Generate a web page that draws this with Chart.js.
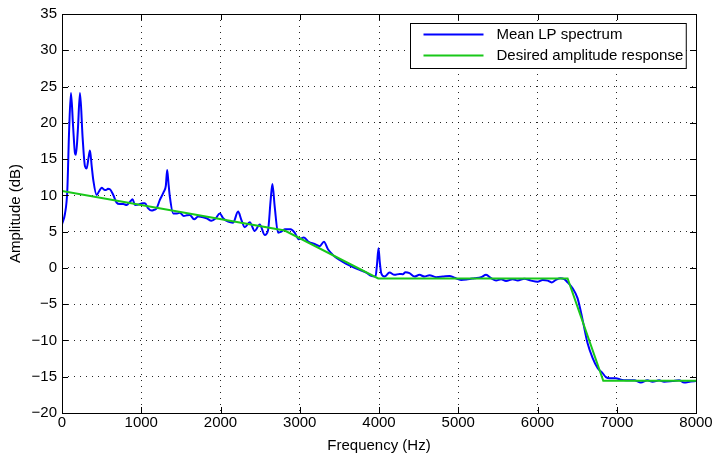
<!DOCTYPE html>
<html>
<head>
<meta charset="utf-8">
<script src="https://cdn.jsdelivr.net/npm/chart.js@4.4.1/dist/chart.umd.min.js"></script>
<style>
  html, body { margin: 0; padding: 0; background: #ffffff; }
  #wrap { width: 716px; height: 458px; }
</style>
</head>
<body>
<div id="wrap"><canvas id="c" width="716" height="458"></canvas></div>
<script>
// ---- data ----
const seriesLabels = ['Mean LP spectrum', 'Desired amplitude response'];

const freqBlue = [0, 38, 67, 90, 113, 140, 164, 176, 200, 227, 260, 290, 311, 335, 353, 375, 395, 437, 470, 500,
  530, 554, 580, 605, 647, 689, 730, 773, 815, 857, 891, 920, 950, 983, 1020, 1046, 1088, 1130, 1160, 1193,
  1235, 1285, 1310, 1327, 1345, 1361, 1403, 1453, 1487, 1537, 1575, 1613, 1667, 1718, 1781, 1823, 1886, 1937, 1991, 2033,
  2096, 2159, 2222, 2264, 2306, 2369, 2432, 2495, 2558, 2600, 2633, 2655, 2684, 2726, 2768, 2810, 2885, 2936, 2986, 3053,
  3112, 3188, 3251, 3305, 3356, 3400, 3440, 3503, 3587, 3671, 3755, 3839, 3902, 3956, 3975, 3994, 4010, 4028, 4070, 4133,
  4196, 4259, 4300, 4334, 4385, 4448, 4511, 4574, 4637, 4721, 4805, 4889, 4952, 5036, 5120, 5204, 5288, 5351, 5414, 5477,
  5540, 5603, 5687, 5750, 5834, 5918, 6002, 6065, 6128, 6178, 6233, 6287, 6338, 6372, 6443, 6506, 6569, 6632, 6695, 6758,
  6821, 6863, 6913, 6989, 7052, 7115, 7220, 7304, 7388, 7451, 7535, 7598, 7703, 7787, 7850, 7934, 8000];
const ampBlue = [6.0, 7.5, 10.7, 19.0, 24.1, 19.5, 15.8, 15.6, 19.0, 24.1, 18.0, 14.0, 13.7, 15.2, 16.2, 14.0, 12.1, 10.05, 10.6, 11.06,
  10.8, 10.74, 10.9, 10.84, 10.05, 9.0, 8.8, 8.8, 8.68, 9.1, 9.46, 8.68, 8.7, 8.8, 8.9, 8.9, 8.2, 7.9, 8.0, 8.2,
  9.37, 10.5, 11.3, 13.5, 11.5, 9.8, 7.5, 7.5, 7.6, 7.16, 7.25, 7.3, 6.7, 7.07, 6.98, 6.84, 6.5, 6.8, 7.5, 6.84,
  6.38, 6.24, 7.76, 6.6, 5.6, 6.3, 5.1, 6.0, 4.55, 5.2, 9.37, 11.57, 8.45, 4.86, 5.0, 5.33, 5.33, 4.86, 3.95, 4.2,
  3.6, 3.3, 3.0, 3.6, 2.57, 2.0, 1.56, 1.1, 0.55, 0.1, -0.28, -0.64, -1.1, -1.2, 0.5, 2.7, 0.8, -0.73, -1.2, -0.64,
  -0.96, -0.83, -0.87, -0.6, -0.73, -1.2, -0.96, -1.2, -1.0, -1.28, -1.2, -1.1, -1.35, -1.65, -1.56, -1.42, -1.28, -0.96, -1.42, -1.75,
  -1.56, -1.8, -1.56, -1.75, -1.5, -1.75, -1.9, -1.65, -1.75, -2.0, -1.65, -1.42, -1.56, -1.9, -2.8, -4.2, -7.16, -10.4, -12.4, -13.8,
  -14.5, -15.05, -15.2, -15.2, -15.4, -15.5, -15.5, -15.8, -15.5, -15.7, -15.5, -15.7, -15.6, -15.5, -15.8, -15.65, -15.6];

const freqGreen = [0, 2810, 3990, 6380, 6830, 8000];
const ampGreen = [10.6, 5.15, -1.45, -1.45, -15.55, -15.55];

const xTickValues = [0, 1000, 2000, 3000, 4000, 5000, 6000, 7000, 8000];
const yTickValues = [-20, -15, -10, -5, 0, 5, 10, 15, 20, 25, 30, 35];

const xTitle = 'Frequency (Hz)';
const yTitle = 'Amplitude (dB)';

// ---- styles ----
const FONT = '"Liberation Sans", Arial, Helvetica, sans-serif';
const BLUE = '#0000ff';
const GREEN = '#19c819';

Chart.defaults.font.family = FONT;
Chart.defaults.font.size = 15;
Chart.defaults.color = '#000000';

const toPts = (xs, ys) => xs.map((x, i) => ({ x: x, y: ys[i] }));
const fmtNum = v => (v < 0 ? '\u2212' + Math.abs(v) : String(v));

const frameAndTicks = {
  id: 'frameAndTicks',
  afterDatasetsDraw(chart) {
    const { ctx, chartArea: a, scales } = chart;
    const L = 6;
    ctx.save();
    ctx.strokeStyle = '#000';
    ctx.lineWidth = 1;
    ctx.beginPath();
    xTickValues.forEach(v => {
      const px = Math.round(scales.x.getPixelForValue(v)) + 0.5;
      ctx.moveTo(px, a.bottom); ctx.lineTo(px, a.bottom - L);
      ctx.moveTo(px, a.top); ctx.lineTo(px, a.top + L);
    });
    yTickValues.forEach(v => {
      const py = Math.round(scales.y.getPixelForValue(v)) + 0.5;
      ctx.moveTo(a.left, py); ctx.lineTo(a.left + L, py);
      ctx.moveTo(a.right, py); ctx.lineTo(a.right - L, py);
    });
    ctx.stroke();
    ctx.strokeRect(Math.round(a.left) + 0.5, Math.round(a.top) + 0.5,
      Math.round(a.right - a.left), Math.round(a.bottom - a.top));

    // legend box (MATLAB style, top-right inside axes)
    ctx.font = '15px ' + FONT;
    const tw = Math.max(...seriesLabels.map(s => ctx.measureText(s).width));
    const bw = 86 + tw + 3, bh = 45;
    const bx = Math.round(a.right - 10 - bw) + 0.5, by = Math.round(a.top + 9) + 0.5;
    ctx.fillStyle = '#fff';
    ctx.fillRect(bx, by, bw, bh);
    ctx.strokeStyle = '#000';
    ctx.strokeRect(bx, by, bw, bh);
    const cols = [BLUE, GREEN];
    seriesLabels.forEach((s, i) => {
      const ly = by + 11 + i * 21;
      ctx.strokeStyle = cols[i];
      ctx.lineWidth = 2;
      ctx.beginPath();
      ctx.moveTo(bx + 13, ly); ctx.lineTo(bx + 73, ly);
      ctx.stroke();
      ctx.fillStyle = '#000';
      ctx.textBaseline = 'middle';
      ctx.textAlign = 'left';
      ctx.fillText(s, bx + 86, ly);
    });
    ctx.restore();
  }
};

new Chart(document.getElementById('c'), {
  type: 'line',
  data: {
    datasets: [
      {
        label: seriesLabels[0],
        data: toPts(freqBlue, ampBlue),
        borderColor: BLUE,
        borderWidth: 2,
        pointRadius: 0,
        cubicInterpolationMode: 'monotone',
        fill: false,
        order: 1
      },
      {
        label: seriesLabels[1],
        data: toPts(freqGreen, ampGreen),
        borderColor: GREEN,
        borderWidth: 2,
        pointRadius: 0,
        tension: 0,
        fill: false,
        order: 0
      }
    ]
  },
  options: {
    responsive: false,
    animation: false,
    parsing: true,
    layout: { padding: { left: 0, right: 20, top: 14, bottom: 0 } },
    plugins: { legend: { display: false }, tooltip: { enabled: false } },
    scales: {
      x: {
        type: 'linear',
        min: 0, max: 8000,
        afterBuildTicks: s => { s.ticks = xTickValues.map(v => ({ value: v })); },
        afterFit: s => { s.height = 45; },
        ticks: { callback: v => fmtNum(v), padding: 1, maxRotation: 0, autoSkip: false, font: { size: 15 } },
        grid: { color: 'rgba(0,0,0,0.85)', lineWidth: 1, drawTicks: false },
        border: { display: false, dash: [1, 5] },
        title: { display: true, text: xTitle, padding: { top: 0, bottom: 3 }, font: { size: 15 } }
      },
      y: {
        type: 'linear',
        min: -20, max: 35,
        afterBuildTicks: s => { s.ticks = yTickValues.map(v => ({ value: v })); },
        afterFit: s => { s.width = 62; },
        ticks: { callback: v => fmtNum(v), padding: 5, autoSkip: false, font: { size: 15 } },
        grid: { color: 'rgba(0,0,0,0.85)', lineWidth: 1, drawTicks: false },
        border: { display: false, dash: [1, 5] },
        title: { display: true, text: yTitle, padding: { top: 7, bottom: 0 }, font: { size: 15 } }
      }
    }
  },
  plugins: [frameAndTicks]
});
</script>
</body>
</html>
